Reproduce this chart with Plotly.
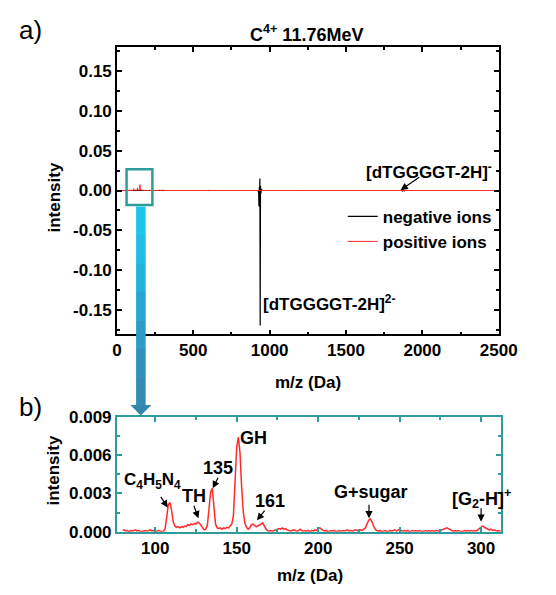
import plotly.graph_objects as go

# ---------------- data ----------------
# negative ions (top panel), m/z in Da, intensity
neg_mz = [0, 400, 900, 925, 928, 930, 932, 934, 936, 938, 940, 942, 946, 950, 1000, 1500,
          1860, 1866, 1870, 1876, 1882, 1890, 2500]
neg_int = [0, 0, 0, 0, -0.003, -0.02, 0.004, -0.008, 0.015, -0.169, 0.006, -0.004, 0.002, 0, 0, 0,
           0, 0.001, -0.001, 0.0008, -0.0005, 0, 0]

# positive ions, low-mass region (bottom panel), intensity in units of 1e-3
mz_b = [80, 81, 82, 83, 84, 85, 86, 87, 88, 89, 90, 91, 92, 93, 94, 95, 96, 97, 98, 99,
        100, 101, 102, 103, 104, 105, 106, 107, 108, 109, 110, 111, 112, 113, 114, 115, 116, 117, 118, 119,
        120, 121, 122, 123, 124, 125, 126, 127, 128, 129, 130, 131, 132, 133, 134, 135, 136, 137, 138, 139,
        140, 141, 142, 143, 144, 145, 146, 147, 148, 149, 150, 151, 152, 153, 154, 155, 156, 157, 158, 159,
        160, 161, 162, 163, 164, 165, 166, 167, 168, 169, 170, 171, 172, 173, 174, 175, 176, 177, 178, 179,
        180, 181, 182, 183, 184, 185, 186, 187, 188, 189, 190, 191, 192, 193, 194, 195, 196, 197, 198, 199,
        200, 201, 202, 203, 204, 205, 206, 207, 208, 209, 210, 211, 212, 213, 214, 215, 216, 217, 218, 219,
        220, 221, 222, 223, 224, 225, 226, 227, 228, 229, 230, 231, 232, 233, 234, 235, 236, 237, 238, 239,
        240, 241, 242, 243, 244, 245, 246, 247, 248, 249, 250, 251, 252, 253, 254, 255, 256, 257, 258, 259,
        260, 261, 262, 263, 264, 265, 266, 267, 268, 269, 270, 271, 272, 273, 274, 275, 276, 277, 278, 279,
        280, 281, 282, 283, 284, 285, 286, 287, 288, 289, 290, 291, 292, 293, 294, 295, 296, 297, 298, 299,
        300, 301, 302, 303, 304, 305, 306, 307, 308, 309, 310, 311, 312, 313, 314, 315, 316, 317, 318]
pos_int_milli = [
    0.10, 0.15, 0.05, 0.10, 0.00, 0.10, 0.05, 0.10, 0.15, 0.05, 0.10, 0.00, 0.05, 0.10, 0.10, 0.05, 0.10, 0.15, 0.05, 0.10,
    0.00, 0.05, 0.10, 0.05, 0.00, 0.05, 0.20, 1.10, 2.10, 2.30, 1.70, 0.80, 0.45, 0.35, 0.40, 0.30, 0.40, 0.35, 0.45, 0.40,
    0.55, 0.50, 0.60, 0.55, 0.65, 0.60, 0.75, 0.70, 0.50, 0.25, 0.15, 0.20, 0.50, 1.80, 3.10, 3.40, 1.90, 0.60, 0.30, 0.25,
    0.30, 0.20, 0.30, 0.25, 0.35, 0.30, 0.45, 0.60, 1.30, 3.80, 6.60, 7.40, 6.20, 3.60, 1.60, 0.70, 0.35, 0.20, 0.30, 0.55,
    0.60, 0.50, 0.40, 0.45, 0.50, 0.60, 0.70, 0.45, 0.20, 0.10, 0.05, 0.10, 0.05, 0.10, 0.15, 0.20, 0.25, 0.20, 0.30, 0.20,
    0.25, 0.15, 0.10, 0.05, 0.10, 0.15, 0.10, 0.05, 0.10, 0.20, 0.10, 0.05, 0.10, 0.05, 0.10, 0.00, 0.10, 0.05, 0.15, 0.10,
    0.25, 0.30, 0.20, 0.10, 0.05, 0.10, 0.00, 0.05, 0.10, 0.05, 0.10, 0.00, 0.05, 0.10, 0.05, 0.10, 0.05, 0.10, 0.15, 0.05,
    0.10, 0.05, 0.10, 0.15, 0.10, 0.05, 0.15, 0.10, 0.20, 0.30, 0.60, 0.90, 1.00, 0.80, 0.45, 0.20, 0.10, 0.05, 0.10, 0.00,
    0.05, 0.10, 0.05, 0.00, 0.10, 0.05, 0.10, 0.15, 0.05, 0.10, 0.20, 0.10, 0.05, 0.10, 0.05, 0.10, 0.00, 0.05, 0.10, 0.05,
    0.10, 0.05, 0.10, 0.05, 0.00, 0.05, 0.10, 0.05, 0.10, 0.05, 0.10, 0.05, 0.10, 0.10, 0.05, 0.10, 0.15, 0.20, 0.25, 0.30,
    0.25, 0.15, 0.10, 0.05, 0.10, 0.05, 0.10, 0.05, 0.00, 0.05, 0.10, 0.05, 0.10, 0.05, 0.10, 0.05, 0.10, 0.05, 0.15, 0.25,
    0.40, 0.45, 0.35, 0.30, 0.25, 0.15, 0.20, 0.10, 0.15, 0.10, 0.05, 0.10, 0.05, 0.10, 0.05, 0.10, 0.05, 0.00, 0.05]
pos_int = [v / 1000 for v in pos_int_milli]

# positive ions over the full range (top panel)
pos_mz_top = [0, 79] + mz_b + [319, 600, 930, 940, 1200, 2500]
pos_int_top = [0, 0] + pos_int + [0, 0, 0.0008, 0, 0, 0]

# tick labels
top_x_ticks = [0, 500, 1000, 1500, 2000, 2500]
top_y_ticks = [-0.15, -0.10, -0.05, 0.00, 0.05, 0.10, 0.15]
top_y_text = ["-0.15", "-0.10", "-0.05", "0.00", "0.05", "0.10", "0.15"]
bot_x_ticks = [100, 150, 200, 250, 300]
bot_y_ticks = [0.000, 0.003, 0.006, 0.009]
bot_y_text = ["0.000", "0.003", "0.006", "0.009"]

# ---------------- layout helpers ----------------
W, H = 556, 595
def px(x):
    return x / W
def py(y):
    return 1 - y / H

FONT = "Liberation Sans, Arial, sans-serif"
TEAL = "#2f9b9b"
RED = "#ff2a2a"
bold = dict(family=FONT, size=17, color="black", weight="bold")

fig = go.Figure()
fig.add_trace(go.Scatter(x=neg_mz, y=neg_int, mode="lines", name="negative ions",
                         line=dict(color="black", width=1.2), xaxis="x", yaxis="y"))
fig.add_trace(go.Scatter(x=pos_mz_top, y=pos_int_top, mode="lines", name="positive ions",
                         line=dict(color=RED, width=1.0), xaxis="x", yaxis="y"))
fig.add_trace(go.Scatter(x=mz_b, y=pos_int, mode="lines", showlegend=False,
                         line=dict(color=RED, width=1.5), xaxis="x2", yaxis="y2"))

common = dict(showgrid=False, zeroline=False, showline=True, mirror="ticks", ticks="inside",
              ticklen=5, tickwidth=1.5, tickfont=bold)

fig.update_layout(
    width=W, height=H, margin=dict(l=0, r=0, t=0, b=0),
    paper_bgcolor="white", plot_bgcolor="white",
    font=dict(family=FONT),
    xaxis=dict(domain=[px(117), px(516)], range=[0, 2500], anchor="y",
               tickvals=top_x_ticks, linecolor="black", linewidth=1.5, tickcolor="black",
               minor=dict(dtick=250, ticks="inside", ticklen=3, tickcolor="black"), **common),
    yaxis=dict(domain=[py(336), py(39)], range=[-0.18, 0.18], anchor="x",
               tickvals=top_y_ticks, ticktext=top_y_text, linecolor="black", linewidth=1.5, tickcolor="black",
               minor=dict(tickvals=[-0.175, -0.125, -0.075, -0.025, 0.025, 0.075, 0.125, 0.175],
                          ticks="inside", ticklen=3, tickcolor="black"), **common),
    xaxis2=dict(domain=[px(117), px(518)], range=[76.5, 312], anchor="y2",
                tickvals=bot_x_ticks, linecolor=TEAL, linewidth=2, tickcolor=TEAL,
                minor=dict(dtick=25, ticks="inside", ticklen=3, tickcolor=TEAL), **common),
    yaxis2=dict(domain=[py(540), py(421)], range=[0, 0.009], anchor="x2",
                tickvals=bot_y_ticks, ticktext=bot_y_text, linecolor=TEAL, linewidth=2, tickcolor=TEAL,
                minor=dict(dtick=0.0015, ticks="inside", ticklen=3, tickcolor=TEAL), **common),
    legend=dict(x=px(353), y=py(196), xanchor="left", yanchor="top", bgcolor="rgba(0,0,0,0)",
                font=dict(family=FONT, size=17, color="black", weight="bold"), tracegroupgap=0),
)

ann = []
def txt(text, x, y, size=17, weight="bold", xref="paper", yref="paper", angle=0):
    ann.append(dict(text=text, x=x, y=y, xref=xref, yref=yref, showarrow=False, textangle=angle,
                    xanchor="center", yanchor="middle",
                    font=dict(family=FONT, size=size, color="black", weight=weight)))

def arrow(x, y, ax, ay, xref, yref):
    ann.append(dict(text="", x=x, y=y, xref=xref, yref=yref, ax=ax, ay=ay, showarrow=True,
                    arrowhead=2, arrowsize=1.2, arrowwidth=1.2, arrowcolor="black", standoff=0))

# panel labels and titles
txt("a)", px(27), py(22), size=26, weight="normal")
txt("b)", px(27), py(411), size=26, weight="normal")
txt("C<sup>4+</sup> 11.76MeV", px(315), py(25), size=18)
txt("intensity", px(52), py(195), angle=-90)
txt("m/z (Da)", px(317), py(386))
txt("intensity", px(51), py(477), angle=-90)
txt("m/z (Da)", px(319), py(585))

# top panel labels
txt("[dTGGGGT-2H]<sup>-</sup>", 2043, 0.024, xref="x", yref="y")
arrow(1858, 0.0005, 20, -14, "x", "y")
txt("[dTGGGGT-2H]<sup>2-</sup>", 1391, -0.141, xref="x", yref="y")

# bottom panel labels
txt("C<sub>4</sub>H<sub>5</sub>N<sub>4</sub>", 98.5, 0.0040, xref="x2", yref="y2", size=17)
arrow(107.7, 0.0019, -8, -12, "x2", "y2")
txt("TH", 123.5, 0.0028, xref="x2", yref="y2", size=18)
arrow(126.5, 0.00105, -5, -14, "x2", "y2")
txt("135", 138.3, 0.0050, xref="x2", yref="y2", size=18)
arrow(135.3, 0.0034, 6, -12, "x2", "y2")
txt("GH", 160.6, 0.0073, xref="x2", yref="y2", size=18)
txt("161", 170.6, 0.0024, xref="x2", yref="y2", size=18)
arrow(162.4, 0.0009, 9, -11, "x2", "y2")
txt("G+sugar", 232.4, 0.0031, xref="x2", yref="y2", size=18)
arrow(231.2, 0.00105, 0, -15, "x2", "y2")
txt("[G<sub>2</sub>-H]<sup>+</sup>", 300, 0.0026, xref="x2", yref="y2", size=18)
arrow(300, 0.00078, 0, -15, "x2", "y2")

fig.update_layout(annotations=ann)

# zoom box and the blue arrow linking the panels
shapes = [dict(type="rect", xref="x", yref="y", x0=63, x1=232, y0=-0.018, y1=0.0265,
               line=dict(color=TEAL, width=2.5), fillcolor="rgba(0,0,0,0)")]
grad = ["#1ec6ec", "#20bde4", "#23b2db", "#27a7d0", "#2b9cc6", "#2f92bc", "#338ab3"]
top, bottom = 204, 410
step = (bottom - top) / len(grad)
for i, c in enumerate(grad):
    shapes.append(dict(type="rect", xref="paper", yref="paper",
                       x0=px(137), x1=px(147), y0=py(top + (i + 1) * step + 0.5), y1=py(top + i * step),
                       line=dict(width=0), fillcolor=c))
shapes.append(dict(type="path", xref="paper", yref="paper",
                   path=f"M {px(131)} {py(409)} L {px(153)} {py(409)} L {px(142)} {py(420)} Z",
                   line=dict(width=0), fillcolor="#3385ad"))
fig.update_layout(shapes=shapes)

fig.write_html("out.html", config={"displayModeBar": False},
               post_script="document.body.style.margin='0px';document.body.style.overflow='hidden';")
